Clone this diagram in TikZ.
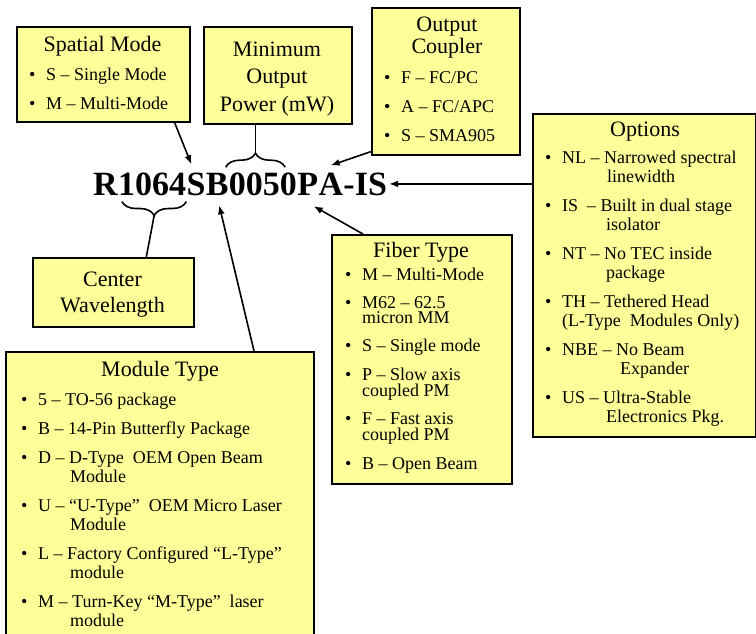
\documentclass[tikz,border=0pt]{standalone}
\usepackage{fontspec}
\setmainfont{Liberation Serif}
\usetikzlibrary{arrows.meta,decorations.pathreplacing,calc}
\definecolor{boxyellow}{HTML}{FFFF99}
\newcommand{\bul}{\makebox[17pt][l]{\textbullet}}
\newcommand{\ind}[1]{\hspace*{#1pt}}

\begin{document}
\begin{tikzpicture}[x=1pt,y=-1pt,
 box/.style={draw,line width=1.6pt,fill=boxyellow,anchor=north west,inner sep=0pt},
 head/.style={font=\fontsize{22}{22}\selectfont,align=center,inner sep=0pt,anchor=base},
 items/.style={font=\fontsize{18}{18.5}\selectfont,align=left,inner sep=0pt,anchor=base west},
 part/.style={font=\fontsize{34}{34}\selectfont\bfseries,inner sep=0pt,anchor=base west},
 link/.style={line width=1.6pt,-{Latex[length=9pt,width=7pt]}},
 tie/.style={line width=1.6pt},
 hold/.style={line width=1.6pt,decorate,decoration={brace,amplitude=14pt}}]
\useasboundingbox (0,0) rectangle (756,633);
\clip (0,0) rectangle (756,633);

% boxes, anchored at the last line of text
\node[box,minimum width=173pt,minimum height=95pt] (spatial) at (16,26) {};
\node[head] (spatialT) at (102.5,51) {Spatial Mode};
\node[items] (spatialL) at (29,109) {\bul S -- Single Mode\\[10pt]\bul M -- Multi-Mode};

\node[box,minimum width=148pt,minimum height=97pt] (power) at (203,26) {};
\node[head,font=\fontsize{22}{27.5}\selectfont] (powerT) at (277,111) {Minimum\\Output\\Power (mW)};

\node[box,minimum width=148pt,minimum height=147pt] (coupler) at (371,7) {};
\node[head] (couplerT) at (447,53) {Output\\Coupler};
\node[items] (couplerL) at (384,141) {\bul F -- FC/PC\\[10.5pt]\bul A -- FC/APC\\[10.5pt]\bul S -- SMA905};

\node[box,minimum width=223pt,minimum height=323pt] (options) at (532,113) {};
\node[head] (optionsT) at (645,136) {Options};
\node[items] (optionsL) at (545,422) {\bul NL -- Narrowed spectral\\ \ind{62}linewidth\\[11pt]
 \bul IS\ \ -- Built in dual stage\\ \ind{61}isolator\\[11pt]
 \bul NT -- No TEC inside\\ \ind{61}package\\[11pt]
 \bul TH -- Tethered Head\\ \ind{17}(L-Type\ \ Modules Only)\\[11pt]
 \bul NBE -- No Beam\\ \ind{75}Expander\\[11pt]
 \bul US -- Ultra-Stable\\ \ind{61}Electronics Pkg.};

\node[box,minimum width=180pt,minimum height=249pt] (fiber) at (331,234) {};
\node[head] (fiberT) at (421,257) {Fiber Type};
\node[items,font=\fontsize{18}{15.5}\selectfont] (fiberL) at (345,469) {\bul M -- Multi-Mode\\[12pt]
 \bul M62 -- 62.5\\ \ind{17}micron MM\\[12pt]
 \bul S -- Single mode\\[12pt]
 \bul P -- Slow axis\\ \ind{17}coupled PM\\[12pt]
 \bul F -- Fast axis\\ \ind{17}coupled PM\\[12pt]
 \bul B -- Open Beam};

\node[box,minimum width=161pt,minimum height=69pt] (wave) at (32,257) {};
\node[head,font=\fontsize{22}{26}\selectfont] (waveT) at (112.5,312) {Center\\Wavelength};

\node[box,minimum width=308pt,minimum height=300pt] (module) at (5,351) {};
\node[head] (moduleT) at (160,376) {Module Type};
\node[items] (moduleL) at (21,626) {\bul 5 -- TO-56 package\\[10pt]
 \bul B -- 14-Pin Butterfly Package\\[11pt]
 \bul D -- D-Type\ \ OEM Open Beam\\ \ind{49}Module\\[11pt]
 \bul U -- ``U-Type''\ \ OEM Micro Laser\\ \ind{49}Module\\[11pt]
 \bul L -- Factory Configured ``L-Type''\\ \ind{49}module\\[11pt]
 \bul M -- Turn-Key ``M-Type''\ \ laser\\ \ind{49}module};

% the part number, one node per field
\node[part] (pR) at (93,195) {R};
\node[part] (pWave) at (pR.base east) {1064};
\node[part] (pMode) at (pWave.base east) {S};
\node[part] (pMod) at (pMode.base east) {B};
\node[part] (pPow) at (pMod.base east) {0050};
\node[part] (pFib) at (pPow.base east) {P};
\node[part] (pCpl) at (pFib.base east) {A};
\node[part] (pOpt) at (pCpl.base east) {-IS};

\draw[link] ([shift={(-16,0)}]spatial.south east) -- ([shift={(5,-8)}]pMode.north west);
\coordinate (powL) at ([shift={(-3,-5)}]pPow.north west);
\coordinate (powR) at ([shift={(-12,-5)}]pPow.north east);
\draw[hold] (powL) -- (powR);
\coordinate (powTip) at ($(powL)!0.5!(powR)+(0,-14)$);
\draw[tie] (powTip) -- (powTip |- power.south);
\coordinate (waveL) at ([shift={(4,6)}]pWave.south west);
\coordinate (waveR) at ([shift={(0,6)}]pWave.south east);
\draw[hold] (waveR) -- (waveL);
\coordinate (waveTip) at ($(waveL)!0.5!(waveR)+(0,14)$);
\draw[tie] (waveTip) -- ([shift={(33,0)}]wave.north);
\draw[link] ([shift={(0,-4)}]coupler.south west) -- ([shift={(0,-7)}]pCpl.north);
\draw[link] (options.west |- pOpt.east) -- ([shift={(2,0)}]pOpt.east);
\draw[link] ([shift={(32,0)}]fiber.north west) -- ([shift={(6,11)}]pFib.south);
\draw[link] ([shift={(249,0)}]module.north west) -- ([shift={(2,10)}]pMod.south);
\end{tikzpicture}
\end{document}
